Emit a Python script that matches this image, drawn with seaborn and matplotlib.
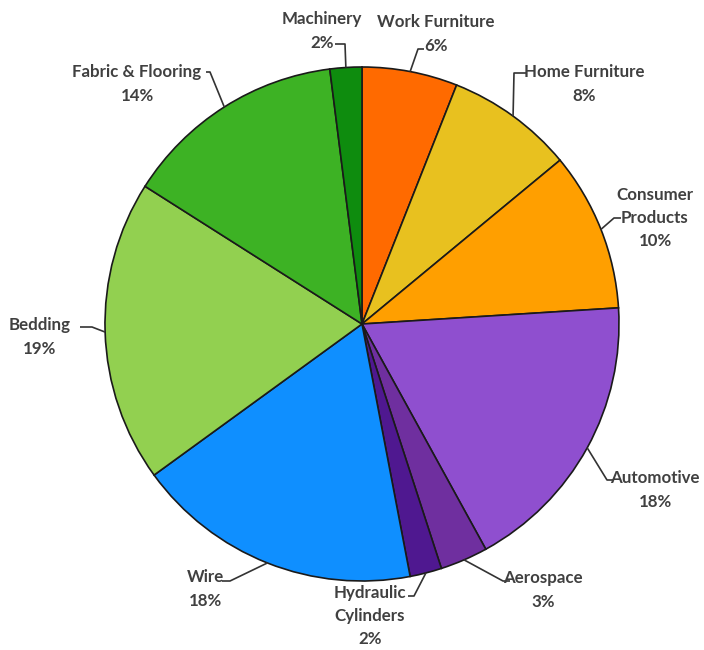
import numpy as np
import matplotlib
matplotlib.use("Agg")
import matplotlib.pyplot as plt
import seaborn as sns

sns.set_theme(style="white")
plt.rcParams['font.family'] = ['Lato', 'DejaVu Sans']

# ---- data ----
categories = ["Work Furniture", "Home Furniture", "Consumer\nProducts", "Automotive",
              "Aerospace", "Hydraulic\nCylinders", "Wire", "Bedding",
              "Fabric & Flooring", "Machinery"]
shares = [6, 8, 10, 18, 3, 2, 18, 19, 14, 2]
colors = ["#FF6A00", "#E8C11F", "#FF9F00", "#8F4FCF", "#6F2F9F",
          "#4F1890", "#0F8FFF", "#92D050", "#3DB224", "#0E8C0E"]

# ---- layout (pixel coords, y measured from top) ----
W, H = 704, 650
center_px = (362, 324)
radius_px = 257
# text centre, end of leader on text side, elbow
label_layout = [
    ((436, 34), (424, 49), (418, 49)),
    ((584, 84), (526, 73), (514, 73)),
    ((655, 218), (621, 218), (614, 218)),
    ((655, 490), (613, 480), (607, 480)),
    ((543, 590), (510, 581), (503, 581)),
    ((370, 616), (408, 596), (414, 596)),
    ((205, 589), (222, 581), (230, 581)),
    ((40, 337), (80, 327), (92, 327)),
    ((137, 84), (206, 72), (210, 72)),
    ((322, 31), (335, 44), (345, 44)),
]

fig = plt.figure(figsize=(W / 100, H / 100), dpi=100)
ax = fig.add_axes([0, 0, 1, 1])

cx, cy = center_px[0], H - center_px[1]
wedges, _ = ax.pie(shares, colors=colors, startangle=90, counterclock=False,
                   center=(cx, cy), radius=radius_px, frame=True,
                   wedgeprops=dict(edgecolor="#1a1a1a", linewidth=1.2))
ax.set_xlim(0, W)
ax.set_ylim(0, H)
ax.set_aspect("equal")
ax.axis("off")

txt_color = "#404040"
for w, cat, val, (tpos, tend, elbow) in zip(wedges, categories, shares, label_layout):
    ang = np.deg2rad((w.theta1 + w.theta2) / 2)
    ax_ = cx + radius_px * np.cos(ang)
    ay_ = cy + radius_px * np.sin(ang)
    xs = [tend[0], elbow[0], ax_]
    ys = [H - tend[1], H - elbow[1], ay_]
    ax.plot(xs, ys, color="#333333", lw=1.2, solid_capstyle="butt")
    ax.text(tpos[0], H - tpos[1], f"{cat}\n{val}%", ha="center", va="center",
            fontsize=12.2, fontweight="bold", color=txt_color, linespacing=1.55)

fig.savefig("out.png", dpi=100, facecolor="white")
